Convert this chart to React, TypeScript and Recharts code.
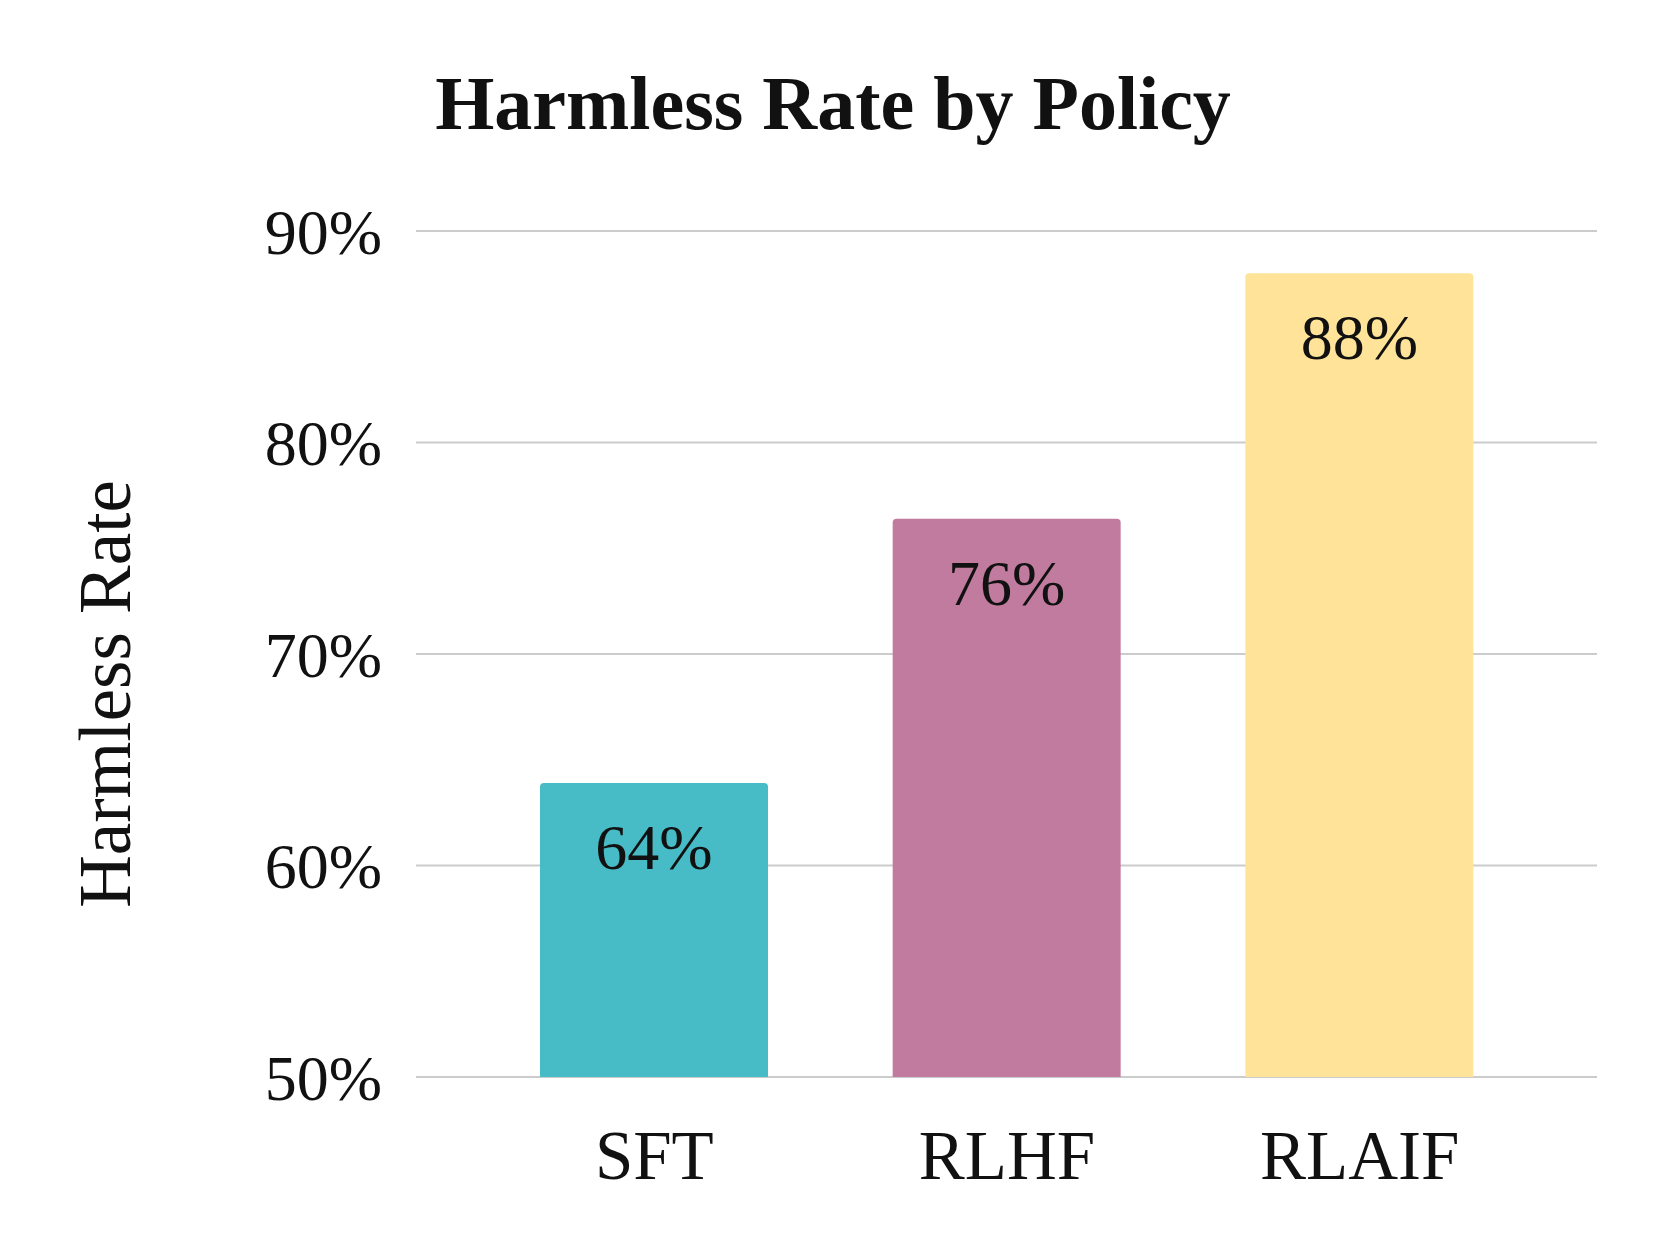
import React from 'react';
import { BarChart, Bar, XAxis, YAxis, CartesianGrid, Cell, LabelList } from 'recharts';

const policies = ['SFT', 'RLHF', 'RLAIF'];
const harmlessRates = [0.639, 0.764, 0.88];
const barColors = ['#48BCC6', '#C17B9F', '#FEE398'];
const yTicks = [0.5, 0.6, 0.7, 0.8, 0.9];

const data = policies.map((policy, i) => ({ policy, rate: harmlessRates[i] }));

const FONT = '"Liberation Serif", "DejaVu Serif", serif';

const pct = (v: number) => `${Math.round(v * 100)}%`;

const BarValue = (props: any) => {
  const { x, y, width, value } = props;
  return (
    <text
      x={x + width / 2}
      y={y + 86}
      textAnchor="middle"
      fontFamily={FONT}
      fontSize={64}
      fill="#111"
    >
      {pct(value)}
    </text>
  );
};

export default function App() {
  return (
    <div style={{ position: 'absolute', left: 0, top: 0, width: 1661, height: 1258, background: '#fff' }}>
      <BarChart
        width={1661}
        height={1258}
        data={data}
        margin={{ top: 231, right: 64, bottom: 151, left: 0 }}
      >
        <CartesianGrid vertical={false} stroke="#CCCCCC" strokeWidth={2} />
        <XAxis
          dataKey="policy"
          height={30}
          axisLine={false}
          tickLine={false}
          tickSize={0}
          tickMargin={53}
          padding={{ left: 62, right: 61 }}
          tick={{ fontFamily: FONT, fontSize: 69, fill: '#111' }}
        />
        <YAxis
          width={416}
          domain={[0.5, 0.9]}
          ticks={yTicks}
          allowDataOverflow
          axisLine={false}
          tickLine={false}
          tickSize={0}
          tickMargin={34}
          tickFormatter={pct}
          tick={{ fontFamily: FONT, fontSize: 64, fill: '#111' }}
        />
        <Bar dataKey="rate" barSize={228} radius={[4, 4, 0, 0]} isAnimationActive={false}>
          {data.map((d, i) => (
            <Cell key={d.policy} fill={barColors[i]} />
          ))}
          <LabelList dataKey="rate" content={BarValue} />
        </Bar>
      </BarChart>
      <svg
        width={1661}
        height={1258}
        style={{ position: 'absolute', left: 0, top: 0, pointerEvents: 'none' }}
      >
        <text x={833} y={129} textAnchor="middle" fontFamily={FONT} fontWeight="bold" fontSize={76} fill="#111">
          Harmless Rate by Policy
        </text>
        <text
          x={130}
          y={694}
          textAnchor="middle"
          transform="rotate(-90, 130, 694)"
          fontFamily={FONT}
          fontSize={73}
          fill="#111"
        >
          Harmless Rate
        </text>
      </svg>
    </div>
  );
}
